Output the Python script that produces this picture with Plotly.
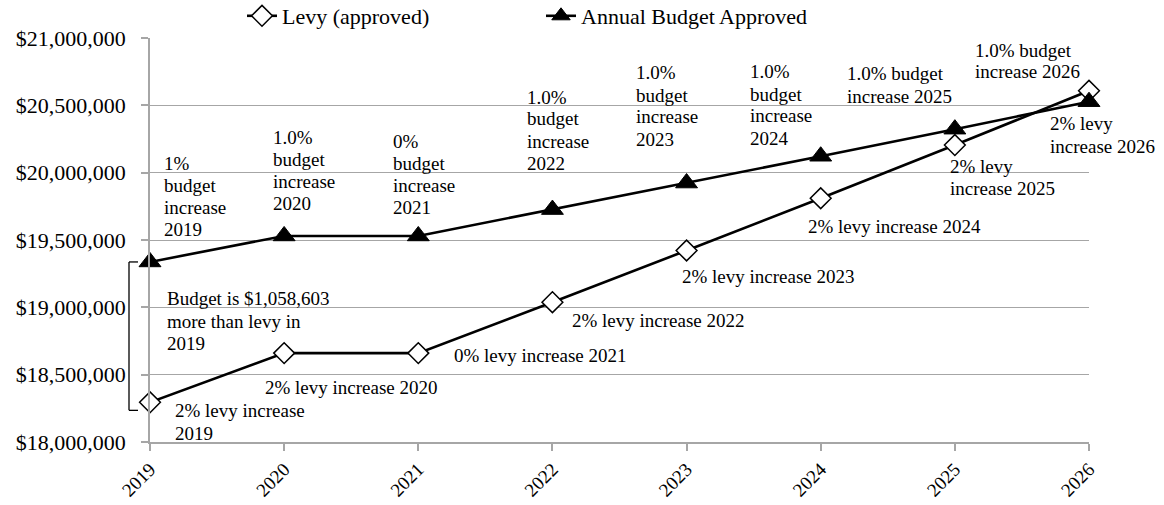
import plotly.graph_objects as go

years = [2019, 2020, 2021, 2022, 2023, 2024, 2025, 2026]
levy = [18295000, 18660000, 18660000, 19038000, 19422000, 19810000, 20205000, 20608000]
budget = [19337000, 19530000, 19530000, 19726000, 19923000, 20122000, 20323000, 20527000]
y_ticks = [18000000, 18500000, 19000000, 19500000, 20000000, 20500000, 21000000]
y_tick_labels = ["$" + f"{v:,}" for v in y_ticks]
x_tick_labels = [str(y) for y in years]

# annotation text blocks: (left px, [ (center y px, text), ... ])
blocks = [
    (162, [(163, "1%"), (185, "budget"), (207, "increase"), (229, "2019")]),
    (271, [(137, "1.0%"), (159, "budget"), (181, "increase"), (203, "2020")]),
    (391, [(141, "0%"), (163, "budget"), (185, "increase"), (207, "2021")]),
    (525, [(97, "1.0%"), (119, "budget"), (141, "increase"), (163, "2022")]),
    (634, [(73, "1.0%"), (95, "budget"), (117, "increase"), (139, "2023")]),
    (748, [(72, "1.0%"), (94, "budget"), (116, "increase"), (138, "2024")]),
    (845, [(74, "1.0% budget"), (96, "increase 2025")]),
    (973, [(50, "1.0% budget"), (72, "increase 2026")]),
    (1048, [(124, "2% levy"), (146, "increase 2026")]),
    (948, [(166, "2% levy"), (188, "increase 2025")]),
    (806, [(226, "2% levy increase 2024")]),
    (680, [(276, "2% levy increase 2023")]),
    (570, [(320, "2% levy increase 2022")]),
    (452, [(355, "0% levy increase 2021")]),
    (263, [(387, "2% levy increase 2020")]),
    (173, [(410, "2% levy increase"), (433, "2019")]),
    (165, [(298, "Budget is $1,058,603"), (321, "more than levy in"), (343, "2019")]),
]

W, H = 1164, 505
L, R, T, B = 150, 75, 38, 63
pw, ph = W - L - R, H - T - B

def px_x(x):
    return (x - L) / pw

def px_y(y):
    return (H - B - y) / ph

FONT = "Liberation Serif, Times New Roman, serif"
GRID = "#a6a6a6"

fig = go.Figure()
fig.add_trace(go.Scatter(
    x=years, y=levy, name="Levy (approved)", mode="lines+markers",
    line=dict(color="black", width=2.6),
    marker=dict(symbol="diamond", size=16, color="white", line=dict(color="black", width=1.5)),
    cliponaxis=False,
))
fig.add_trace(go.Scatter(
    x=years, y=budget, name="Annual Budget Approved", mode="lines+markers",
    line=dict(color="black", width=2.6),
    marker=dict(symbol="triangle-up", size=19, color="black", line=dict(color="black", width=1)),
    cliponaxis=False,
))

for left, lines in blocks:
    for yc, txt in lines:
        fig.add_annotation(
            x=px_x(left), y=px_y(yc), xref="paper", yref="paper",
            text=txt, showarrow=False, xanchor="left", yanchor="middle",
            font=dict(family=FONT, size=19, color="black"),
        )

# bracket linking budget and levy in 2019
bx0 = px_x(129)
bx1 = px_x(138)
ytop = budget[0]
ybot = levy[0] - 60000
bracket = dict(color="black", width=1.3)
fig.add_shape(type="line", xref="paper", yref="y", x0=bx0, x1=bx0, y0=ybot, y1=ytop, line=bracket)
fig.add_shape(type="line", xref="paper", yref="y", x0=bx0, x1=bx1, y0=ytop, y1=ytop, line=bracket)
fig.add_shape(type="line", xref="paper", yref="y", x0=bx0, x1=bx1, y0=ybot, y1=ybot, line=bracket)

fig.update_layout(
    width=W, height=H,
    margin=dict(l=L, r=R, t=T, b=B, autoexpand=False),
    paper_bgcolor="white", plot_bgcolor="white",
    font=dict(family=FONT, color="black"),
    showlegend=True,
    legend=dict(
        orientation="h", x=px_x(242), y=px_y(16), xanchor="left", yanchor="middle",
        font=dict(family=FONT, size=22, color="black"),
        entrywidth=254, bgcolor="rgba(0,0,0,0)", borderwidth=0,
    ),
    xaxis=dict(
        range=[years[0], years[-1]], tickmode="array", tickvals=years,
        ticktext=x_tick_labels, tickangle=-45,
        showgrid=False, showline=True, linecolor=GRID, linewidth=1.5,
        ticks="outside", ticklen=7, tickcolor=GRID, tickwidth=1.5,
        tickfont=dict(family=FONT, size=19, color="black"), zeroline=False,
    ),
    yaxis=dict(
        range=[y_ticks[0], y_ticks[-1]], tickmode="array", tickvals=y_ticks,
        ticktext=y_tick_labels, ticklabelstandoff=11,
        showgrid=True, gridcolor=GRID, gridwidth=1.3,
        showline=True, linecolor=GRID, linewidth=1.5,
        ticks="outside", ticklen=7, tickcolor=GRID, tickwidth=1.5,
        tickfont=dict(family=FONT, size=22, color="black"), zeroline=False,
    ),
)

fig.write_html("out.html")
